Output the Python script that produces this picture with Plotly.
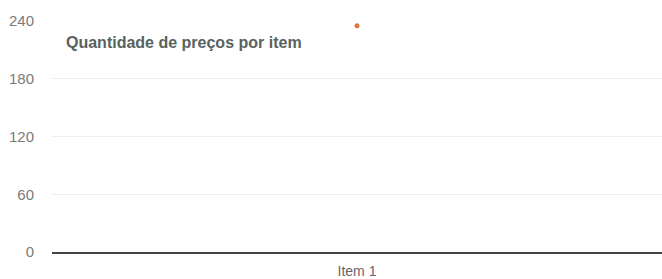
import plotly.graph_objects as go

categories = ["Item 1"]
values = [235]
y_ticks = [0, 60, 120, 180, 240]
title_text = "Quantidade de preços por item"

fig = go.Figure()
fig.add_trace(go.Scatter(
    x=categories, y=values, mode="markers",
    marker=dict(color="#e2763f", size=5),
    showlegend=False,
))

fig.update_layout(
    width=662, height=279,
    margin=dict(l=52, r=0, t=21, b=27, autoexpand=False),
    paper_bgcolor="white", plot_bgcolor="white",
    font=dict(family="Liberation Sans, Arial, sans-serif", color="#777777", size=14),
    annotations=[dict(
        text="<b>" + title_text + "</b>",
        xref="paper", yref="paper", x=0.02, y=0.905,
        xanchor="left", yanchor="middle", showarrow=False,
        font=dict(size=16, color="#58625f"),
    )],
)
fig.update_xaxes(
    type="category", showgrid=False, zeroline=False, automargin=False,
    showline=True, linecolor="#444444", linewidth=1.5,
    tickfont=dict(size=14, color="#666666"), ticks="",
    ticklabelstandoff=5,
)
fig.update_yaxes(
    range=[0, 240], tickvals=y_ticks, automargin=False,
    showgrid=True, gridcolor="#eeeeee", gridwidth=1,
    zeroline=False, showline=False, ticks="",
    ticklabelstandoff=17,
    tickfont=dict(size=15, color="#7a7a7a"),
)

fig.write_html(
    "out.html",
    config={"displayModeBar": False},
    post_script="document.body.style.margin='0';document.body.style.overflow='hidden';",
)
